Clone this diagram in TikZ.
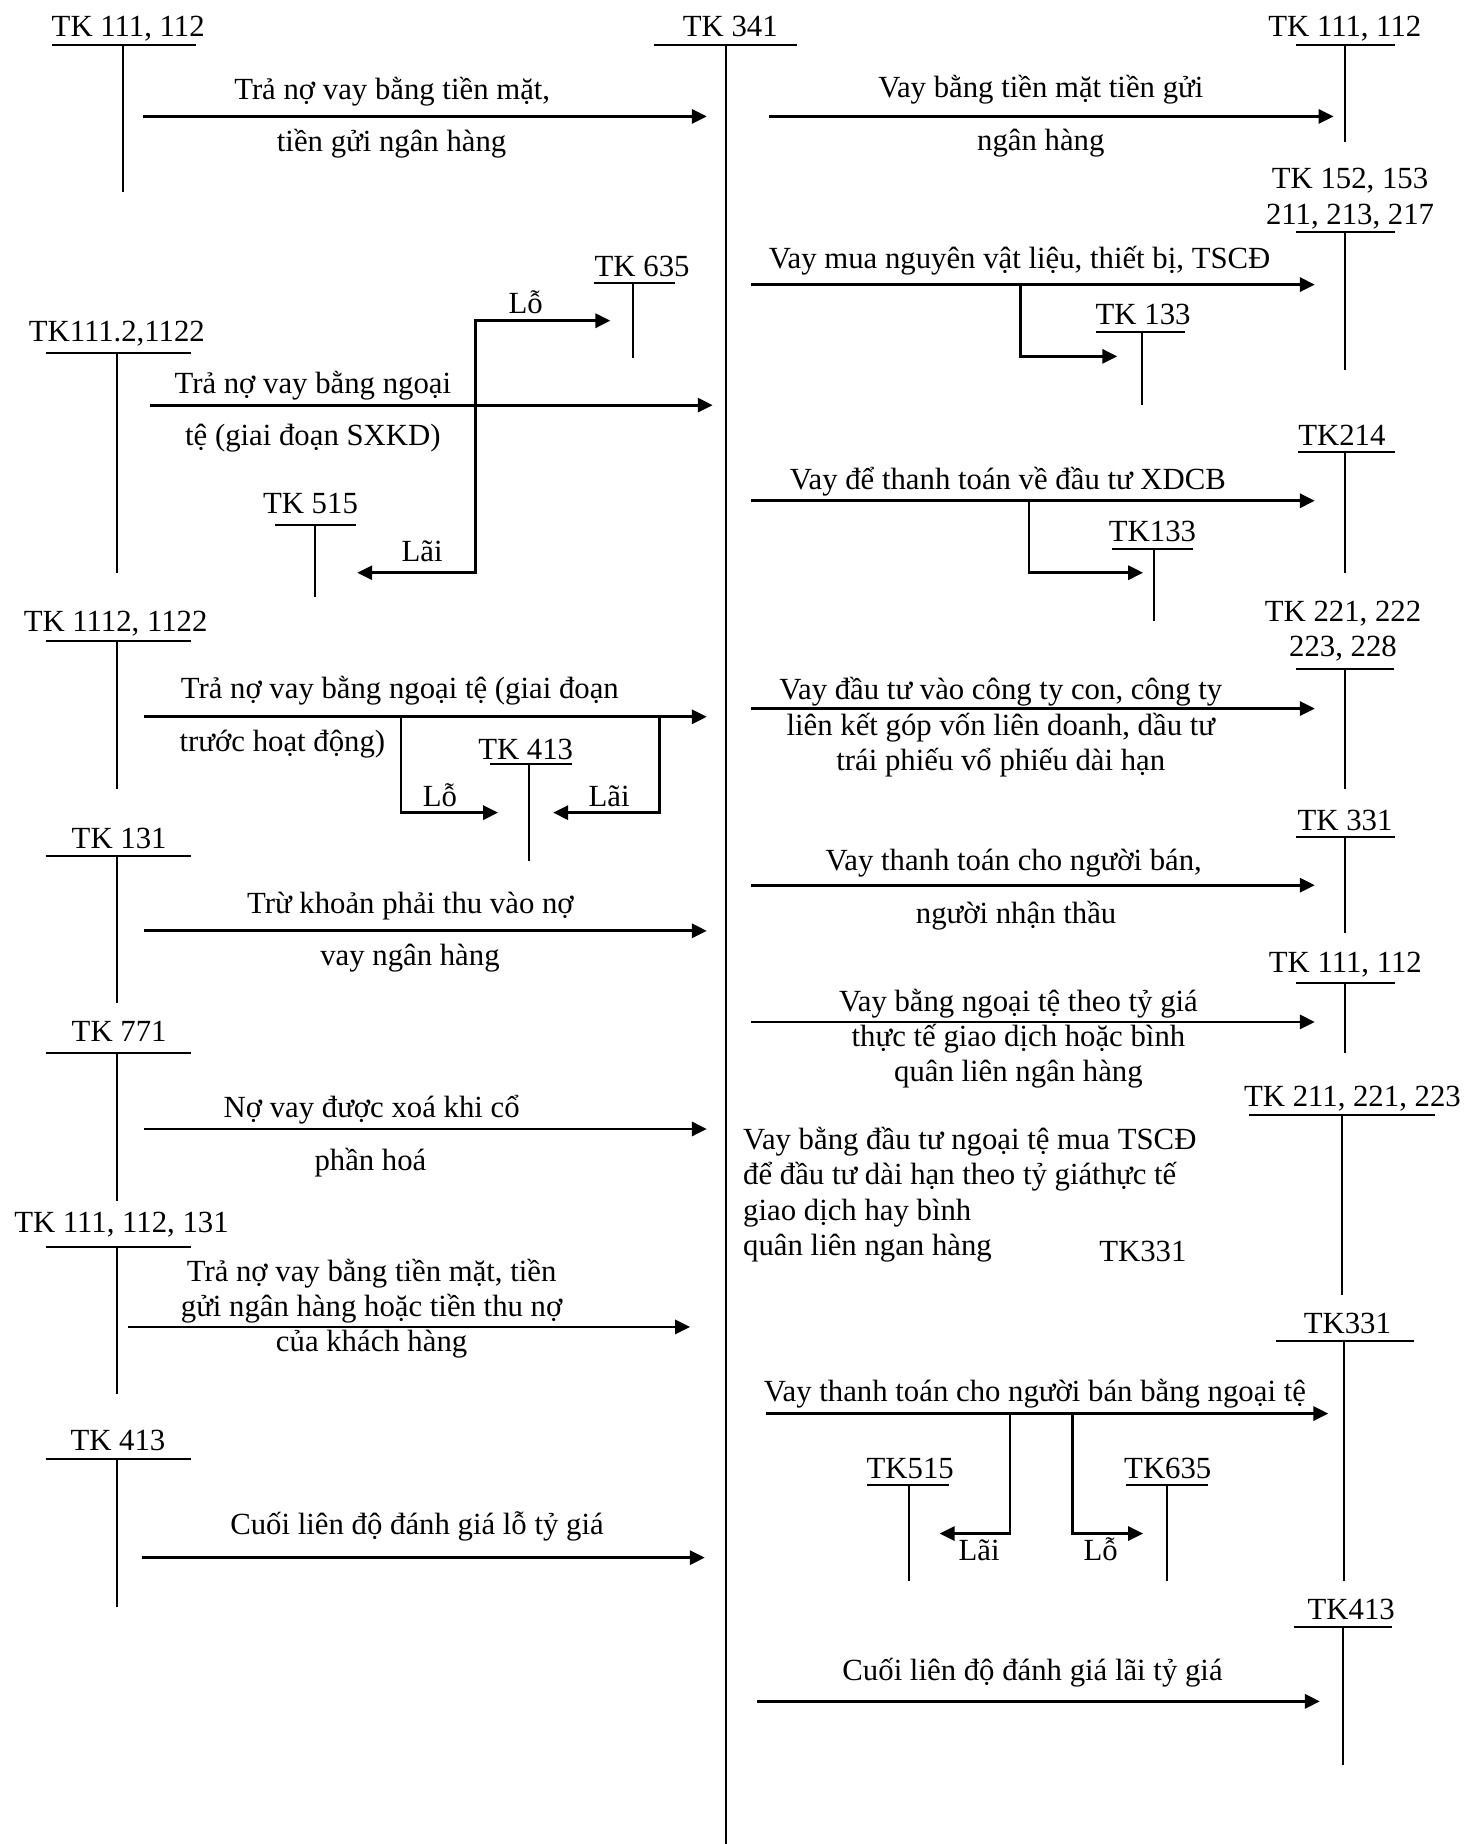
\documentclass[tikz,border=0pt]{standalone}
\usepackage{fontspec}
\setmainfont{Liberation Serif}
\usepackage{tikz}
\usetikzlibrary{arrows.meta}

\begin{document}
\begin{tikzpicture}[
  x=0.025cm, y=-0.025cm,
  every node/.style={font=\fontsize{18.6}{21.3}\selectfont, inner sep=0pt},
  lbl/.style={anchor=base, align=center},
  lblw/.style={anchor=base west, align=left},
  tline/.style={line width=1.2pt},
  flow/.style={line width=1.7pt, -{Triangle[length=9pt, width=8.5pt]}},
]
  \useasboundingbox (0,0) rectangle (1246,1568);

  % Central account
  \node[lbl] (n341) at (621,31) {TK 341};
  \draw[tline] (556,38) -- (678,38);
  \draw[tline] (617,38) -- (617,1568);

  % ---- left side ----
  % TK 111, 112
  \node[lbl] (l111) at (109,31) {TK 111, 112};
  \draw[tline] (44,38) -- (167,38);
  \draw[tline] (105,38) -- (105,163);
  \coordinate (a1) at (122,99);
  \coordinate (a1t) at (601,99);
  \draw[flow] (a1) -- (a1t);
  \node[lbl] (ta1) at (333.5,84.5) {Trả nợ vay bằng tiền mặt,};
  \node[lbl] (tb1) at (333,129) {tiền gửi ngân hàng};

  % TK111.2,1122 with TK 635 / TK 515
  \node[lbl] (l1112) at (99.3,290.6) {TK111.2,1122};
  \draw[tline] (39,300.5) -- (162,300.5);
  \draw[tline] (99.5,300.5) -- (99.5,487.6);
  \coordinate (a2) at (127.6,344.5);
  \coordinate (a2t) at (606,344.5);
  \draw[flow] (a2) -- (a2t);
  \node[lbl] (ta2) at (266,335) {Trả nợ vay bằng ngoại};
  \node[lbl] (tb2) at (266,378.5) {tệ (giai đoạn SXKD)};

  \node[lbl] (l635) at (546,235.3) {TK 635};
  \draw[tline] (505,241) -- (574,241);
  \draw[tline] (538.6,241) -- (538.6,304);
  \node[lbl] (l515) at (264,436.6) {TK 515};
  \draw[tline] (234,446.5) -- (303,446.5);
  \draw[tline] (268,446.5) -- (268,507.5);
  \coordinate (b2) at (404.6,344.5);
  \coordinate (b2u) at (519,272.7);
  \coordinate (b2d) at (303.8,487);
  \draw[flow] (b2) |- (b2u);
  \draw[flow] (b2) |- (b2d);
  \node[lbl] (lo2) at (447,266.5) {Lỗ};
  \node[lbl] (lai2) at (359,477.7) {Lãi};

  % TK 1112, 1122 with TK 413
  \node[lbl] (l1122) at (98.3,537.2) {TK 1112, 1122};
  \draw[tline] (39,545) -- (162,545);
  \draw[tline] (99.5,545) -- (99.5,671);
  \coordinate (a3) at (122.4,609.5);
  \coordinate (a3t) at (601,609.5);
  \draw[flow] (a3) -- (a3t);
  \node[lblw] (ta3) at (153.5,594) {Trả nợ vay bằng ngoại tệ (giai đoạn};
  \node[lblw] (tb3) at (152.5,639.3) {trước hoạt động)};

  \node[lbl] (l413m) at (447,645.8) {TK 413};
  \draw[tline] (416.6,649.8) -- (486.5,649.8);
  \draw[tline] (450,649.8) -- (450,732);
  \coordinate (b3l) at (341,609.5);
  \coordinate (b3r) at (561,609.5);
  \coordinate (b3lt) at (423.5,691);
  \coordinate (b3rt) at (470.4,691);
  \draw[flow] (b3l) |- (b3lt);
  \draw[flow] (b3r) |- (b3rt);
  \node[lbl] (lo3) at (374,685.5) {Lỗ};
  \node[lbl] (lai3) at (518,685.5) {Lãi};

  % TK 131
  \node[lbl] (l131) at (101.3,721.5) {TK 131};
  \draw[tline] (39,727.7) -- (162,727.7);
  \draw[tline] (99.5,727.7) -- (99.5,853);
  \coordinate (a4) at (122.4,791.5);
  \coordinate (a4t) at (601,791.5);
  \draw[flow] (a4) -- (a4t);
  \node[lbl] (ta4) at (349,776.8) {Trừ khoản phải thu vào nợ};
  \node[lbl] (tb4) at (348.6,821) {vay ngân hàng};

  % TK 771
  \node[lbl] (l771) at (101.3,886) {TK 771};
  \draw[tline] (39,895) -- (162,895);
  \draw[tline] (99.5,895) -- (99.5,1021.5);
  \coordinate (a5) at (122.4,960);
  \coordinate (a5t) at (601,960);
  \draw[flow] (a5) -- (a5t);
  \node[lbl] (ta5) at (316,950.3) {Nợ vay được xoá khi cổ};
  \node[lbl] (tb5) at (315,995) {phần hoá};

  % TK 111, 112, 131
  \node[lbl] (l131b) at (103.3,1047.6) {TK 111, 112, 131};
  \draw[tline] (39,1060) -- (162,1060);
  \draw[tline] (99.5,1060) -- (99.5,1185.7);
  \coordinate (a6) at (109,1128.3);
  \coordinate (a6t) at (586.8,1128.3);
  \draw[flow] (a6) -- (a6t);
  \node[lbl] (ta6) at (316,1149.6)
    {Trả nợ vay bằng tiền mặt, tiền\\gửi ngân hàng hoặc tiền thu nợ\\của khách hàng};

  % TK 413
  \node[lbl] (l413) at (100.3,1233) {TK 413};
  \draw[tline] (39,1241) -- (162,1241);
  \draw[tline] (99.5,1241) -- (99.5,1366.5);
  \coordinate (a7) at (120.4,1324.5);
  \coordinate (a7t) at (599.3,1324.5);
  \draw[flow] (a7) -- (a7t);
  \node[lbl] (ta7) at (354.6,1304.7) {Cuối liên độ đánh giá lỗ tỷ giá};

  % ---- right side ----
  % TK 111, 112
  \node[lbl] (r111) at (1143.5,31) {TK 111, 112};
  \draw[tline] (1102,38) -- (1186,38);
  \draw[tline] (1144,38) -- (1144,120.5);
  \coordinate (c1) at (654,99);
  \coordinate (c1t) at (1134,99);
  \draw[flow] (c1) -- (c1t);
  \node[lbl] (tc1) at (885,83) {Vay bằng tiền mặt tiền gửi};
  \node[lbl] (td1) at (885,127.6) {ngân hàng};

  % TK 152, 153, 211, 213, 217 with TK 133
  \node[lbl] (r152) at (1148,190.5) {TK 152, 153\\211, 213, 217};
  \draw[tline] (1102,197.5) -- (1186,197.5);
  \draw[tline] (1144,197.5) -- (1144,315);
  \coordinate (c2) at (639,242);
  \coordinate (c2t) at (1118,242);
  \draw[flow] (c2) -- (c2t);
  \node[lbl] (tc2) at (867,228) {Vay mua nguyên vật liệu, thiết bị, TSCĐ};
  \node[lbl] (r133) at (972,275.6) {TK 133};
  \draw[tline] (931.6,282.6) -- (1007.6,282.6);
  \draw[tline] (971,282.6) -- (971,344.5);
  \coordinate (e2) at (867.6,242);
  \coordinate (e2t) at (950,303);
  \draw[flow] (e2) |- (e2t);

  % TK214 with TK133
  \node[lbl] (r214) at (1141,379) {TK214};
  \draw[tline] (1103.7,384.7) -- (1186,384.7);
  \draw[tline] (1144,384.7) -- (1144,487);
  \coordinate (c3) at (639,425.8);
  \coordinate (c3t) at (1118,425.8);
  \draw[flow] (c3) -- (c3t);
  \node[lbl] (tc3) at (857,416) {Vay để thanh toán về đầu tư XDCB};
  \node[lbl] (r133b) at (980,460.7) {TK133};
  \draw[tline] (945.8,467) -- (1014.4,467);
  \draw[tline] (981,467) -- (981,528);
  \coordinate (e3) at (875,425.8);
  \coordinate (e3t) at (972,487);
  \draw[flow] (e3) |- (e3t);

  % TK 221, 222, 223, 228
  \node[lbl] (r221) at (1142,558.5) {TK 221, 222\\223, 228};
  \draw[tline] (1102,569) -- (1185,569);
  \draw[tline] (1144,569) -- (1144,671);
  \coordinate (c4) at (639,602.5);
  \coordinate (c4t) at (1118,602.5);
  \draw[flow] (c4) -- (c4t);
  \node[lbl] (tc4) at (851,655)
    {Vay đầu tư vào công ty con, công ty\\liên kết góp vốn liên doanh, dầu tư\\trái phiếu vổ phiếu dài hạn};

  % TK 331
  \node[lbl] (r331) at (1143.7,706) {TK 331};
  \draw[tline] (1102,711.6) -- (1186,711.6);
  \draw[tline] (1144,711.6) -- (1144,793);
  \coordinate (c5) at (639,752.7);
  \coordinate (c5t) at (1118,752.7);
  \draw[flow] (c5) -- (c5t);
  \node[lbl] (tc5) at (862,740) {Vay thanh toán cho người bán,};
  \node[lbl] (td5) at (864,785.3) {người nhận thầu};

  % TK 111, 112 (ngoai te)
  \node[lbl] (r111b) at (1144,827.3) {TK 111, 112};
  \draw[tline] (1102,835.7) -- (1186,835.7);
  \draw[tline] (1144,835.7) -- (1144,895);
  \coordinate (c6) at (639,869);
  \coordinate (c6t) at (1118,869);
  \draw[flow] (c6) -- (c6t);
  \node[lbl] (tc6) at (866,920)
    {Vay bằng ngoại tệ theo tỷ giá\\thực tế giao dịch hoặc bình\\quân liên ngân hàng};

  % TK 211, 221, 223
  \node[lbl] (r211) at (1150,940.7) {TK 211, 221, 223};
  \draw[tline] (1062,948.3) -- (1220.5,948.3);
  \draw[tline] (1141,948.3) -- (1141,1101.4);
  \node[lblw] (tc7) at (631.7,1067.4)
    {Vay bằng đầu tư ngoại tệ mua TSCĐ\\để đầu tư dài hạn theo tỷ giáthực tế\\giao dịch hay bình\\quân liên ngan hàng};
  \node[lbl] (r331x) at (971.8,1073) {TK331};

  % TK331 with TK515 / TK635
  \node[lbl] (r331b) at (1145.7,1134) {TK331};
  \draw[tline] (1085.3,1140) -- (1202.4,1140);
  \draw[tline] (1143,1140) -- (1143,1344.6);
  \coordinate (c8) at (651.5,1202);
  \coordinate (c8t) at (1129.5,1202);
  \draw[flow] (c8) -- (c8t);
  \node[lbl] (tc8) at (880,1192) {Vay thanh toán cho người bán bằng ngoại tệ};
  \node[lbl] (r515) at (774,1257.3) {TK515};
  \draw[tline] (737.6,1263) -- (807,1263);
  \draw[tline] (772.8,1263) -- (772.8,1344.6);
  \node[lbl] (r635) at (993,1257.5) {TK635};
  \draw[tline] (957.8,1263) -- (1027.4,1263);
  \draw[tline] (992.2,1263) -- (992.2,1344.6);
  \coordinate (e8l) at (858.8,1202);
  \coordinate (e8r) at (911.7,1202);
  \coordinate (e8lt) at (799,1304);
  \coordinate (e8rt) at (972,1304);
  \draw[flow] (e8l) |- (e8lt);
  \draw[flow] (e8r) |- (e8rt);
  \node[lbl] (lai8) at (832.6,1326.8) {Lãi};
  \node[lbl] (lo8) at (936,1326.8) {Lỗ};

  % TK413
  \node[lbl] (r413) at (1149,1377.3) {TK413};
  \draw[tline] (1100.6,1383.5) -- (1183.4,1383.5);
  \draw[tline] (1141.7,1383.5) -- (1141.7,1500.6);
  \coordinate (c9) at (643.8,1446.7);
  \coordinate (c9t) at (1122.3,1446.7);
  \draw[flow] (c9) -- (c9t);
  \node[lbl] (tc9) at (878,1428.8) {Cuối liên độ đánh giá lãi tỷ giá};
\end{tikzpicture}
\end{document}
